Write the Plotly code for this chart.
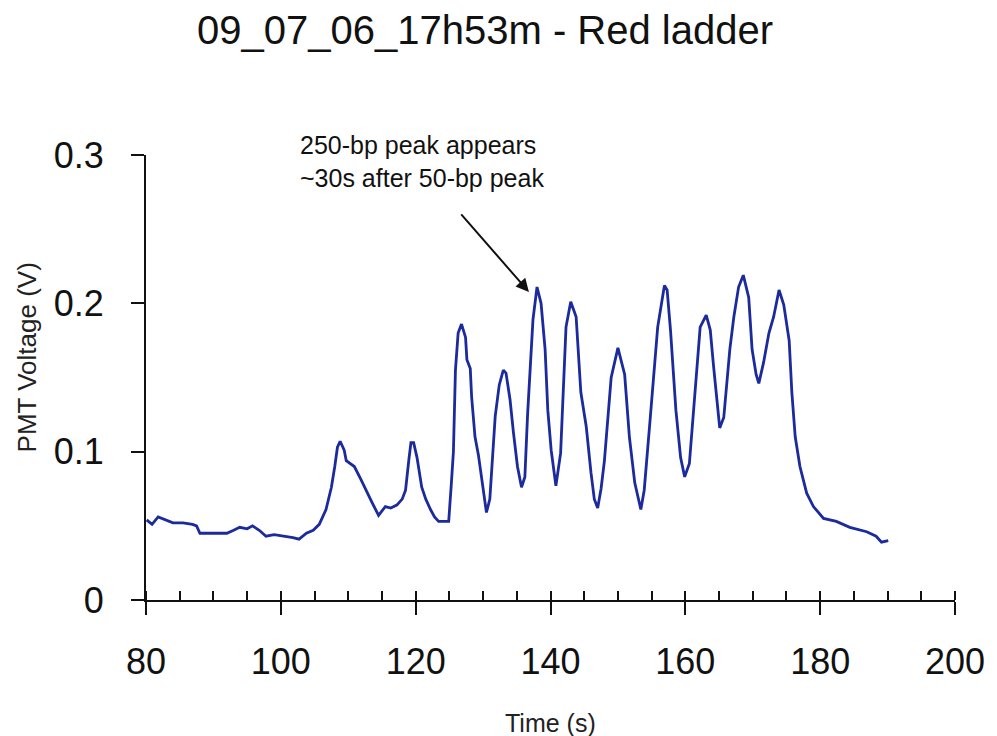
import plotly.graph_objects as go

time_s = [80.1, 80.9, 81.8, 83.0, 84.0, 85.5, 86.9, 87.5, 88.0, 90.0, 92.0, 93.0, 93.9, 95.0, 95.8,
          96.8, 97.8, 99.0, 100.8, 101.8, 102.7, 103.8, 104.8, 105.7, 106.7, 107.5, 108.0, 108.4,
          108.8, 109.4, 109.7, 110.9, 111.8, 112.6, 113.5, 114.5, 115.5, 116.3, 117.2, 118.0, 118.5,
          119.0, 119.3, 119.7, 120.2, 120.9, 121.5, 122.2, 122.8, 123.4, 124.9, 125.3, 125.6, 125.9,
          126.3, 126.8, 127.4, 127.6, 128.1, 128.3, 128.8, 129.3, 130.0, 130.5, 131.0, 131.5, 131.8,
          132.4, 133.0, 133.4, 134.0, 134.5, 135.1, 135.7, 136.2, 136.6, 137.0, 137.4, 138.0, 138.6,
          139.2, 139.6, 140.1, 140.8, 141.5, 142.0, 142.3, 143.0, 143.8, 144.5, 145.3, 146.0, 146.5,
          147.0, 147.5, 148.0, 149.0, 150.0, 150.4, 151.0, 151.7, 152.5, 153.4, 153.9, 154.8, 155.9,
          156.9, 157.3, 157.8, 158.6, 159.3, 159.9, 160.6, 161.3, 162.2, 163.1, 163.7, 164.2, 164.7,
          165.1, 165.7, 166.6, 167.2, 167.9, 168.6, 169.4, 169.9, 170.5, 170.9, 171.6, 172.4, 173.1,
          173.9, 174.6, 175.4, 175.8, 176.3, 177.0, 178.0, 179.0, 180.5, 182.4, 184.4, 186.9, 188.3,
          189.1, 190.1]
voltage_v = [0.054, 0.051, 0.056, 0.054, 0.052, 0.052, 0.051, 0.050, 0.045, 0.045, 0.045, 0.047, 0.049,
             0.048, 0.050, 0.047, 0.043, 0.044, 0.043, 0.042, 0.041, 0.045, 0.047, 0.051, 0.061, 0.076,
             0.090, 0.103, 0.107, 0.101, 0.094, 0.090, 0.082, 0.074, 0.066, 0.057, 0.063, 0.062, 0.064,
             0.068, 0.074, 0.095, 0.106, 0.106, 0.096, 0.076, 0.068, 0.061, 0.056, 0.053, 0.053, 0.079,
             0.100, 0.155, 0.180, 0.186, 0.177, 0.162, 0.156, 0.137, 0.110, 0.098, 0.074, 0.059, 0.068,
             0.101, 0.124, 0.145, 0.155, 0.153, 0.135, 0.113, 0.090, 0.076, 0.083, 0.125, 0.162, 0.189,
             0.211, 0.200, 0.169, 0.128, 0.101, 0.077, 0.099, 0.150, 0.184, 0.201, 0.191, 0.140, 0.117,
             0.086, 0.068, 0.062, 0.075, 0.094, 0.150, 0.170, 0.163, 0.152, 0.110, 0.079, 0.061, 0.074,
             0.123, 0.184, 0.212, 0.209, 0.182, 0.128, 0.096, 0.083, 0.092, 0.135, 0.184, 0.192, 0.182,
             0.157, 0.135, 0.116, 0.123, 0.169, 0.191, 0.211, 0.219, 0.204, 0.169, 0.152, 0.146, 0.160,
             0.180, 0.191, 0.209, 0.199, 0.175, 0.140, 0.110, 0.090, 0.072, 0.063, 0.055, 0.053, 0.049,
             0.046, 0.043, 0.039, 0.040]

x_ticks = [80, 100, 120, 140, 160, 180, 200]
y_ticks = [0, 0.1, 0.2, 0.3]
y_tick_labels = ["0", "0.1", "0.2", "0.3"]

title_text = "09_07_06_17h53m - Red ladder"
x_title = "Time (s)"
y_title = "PMT Voltage (V)"
note_lines = ["250-bp peak appears", "~30s after 50-bp peak"]
arrow_target = (136.8, 0.2077)

FONT = "Liberation Sans, Arial, sans-serif"

fig = go.Figure()
fig.add_trace(go.Scatter(x=time_s, y=voltage_v, mode="lines",
                         line=dict(color="#1b2a9c", width=2.8), showlegend=False,
                         hoverinfo="skip"))

fig.update_layout(
    width=997, height=736,
    margin=dict(l=146, r=32, t=155, b=136),
    paper_bgcolor="white", plot_bgcolor="white",
    title=dict(text=title_text, x=485 / 997, xanchor="center", y=1 - 30 / 736, yanchor="middle",
               font=dict(family=FONT, size=40, color="#111111")),
    xaxis=dict(range=[80, 200], tickvals=x_ticks, ticktext=[str(v) for v in x_ticks],
               showgrid=False, zeroline=False, showline=True, linecolor="#111111", linewidth=2,
               ticks="outside", ticklen=13, tickwidth=2, tickcolor="#111111",
               tickfont=dict(family=FONT, size=36, color="#111111"), ticklabelstandoff=16,
               minor=dict(ticks="inside", dtick=5, tick0=80, ticklen=9, tickwidth=2,
                          tickcolor="#111111", showgrid=False)),
    xaxis2=dict(range=[80, 200], overlaying="x", anchor="y", side="bottom",
                tickvals=x_ticks, showticklabels=False, showgrid=False, zeroline=False,
                showline=False, ticks="inside", ticklen=13, tickwidth=2, tickcolor="#111111"),
    yaxis=dict(range=[0, 0.3], tickvals=y_ticks, ticktext=y_tick_labels,
               showgrid=False, zeroline=False, showline=True, linecolor="#111111", linewidth=2,
               ticks="outside", ticklen=13, tickwidth=2, tickcolor="#111111",
               tickfont=dict(family=FONT, size=36, color="#111111"), ticklabelstandoff=20),
)

fig.add_annotation(text=x_title, xref="paper", yref="paper", x=(555 - 146) / 819,
                   y=-(723 - 600) / 445, xanchor="center", yanchor="middle", showarrow=False,
                   font=dict(family=FONT, size=25, color="#222222"))
fig.add_annotation(text=y_title, xref="paper", yref="paper", x=(26 - 146) / 819,
                   y=(600 - 357) / 445, xanchor="center", yanchor="middle", showarrow=False,
                   textangle=-90, font=dict(family=FONT, size=26, color="#222222"))
fig.add_annotation(text="<br>".join(note_lines), xref="paper", yref="paper", x=(300 - 146) / 819,
                   y=(600 - 161) / 445, xanchor="left", yanchor="middle", align="left",
                   showarrow=False, font=dict(family=FONT, size=25, color="#111111"))
fig.add_annotation(text="", x=arrow_target[0], y=arrow_target[1], xref="x", yref="y",
                   showarrow=True, ax=-69, ay=-79, arrowhead=2, arrowsize=1.3, arrowwidth=2,
                   arrowcolor="#111111", standoff=0)

fig.write_html("out.html")
